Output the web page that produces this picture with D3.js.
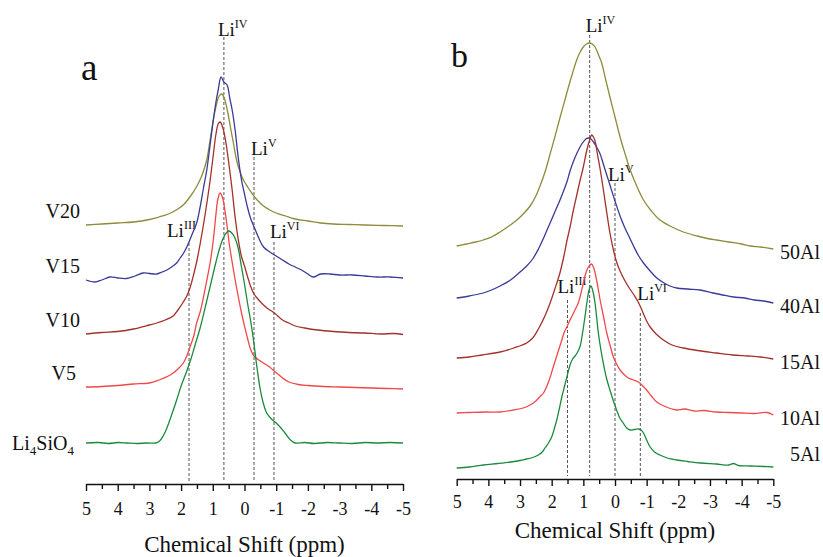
<!DOCTYPE html>
<html>
<head>
<meta charset="utf-8">
<script src="https://cdn.jsdelivr.net/npm/d3@7"></script>
<style>
  body { margin: 0; background: #fff; }
  svg { display: block; }
  text { font-family: "Liberation Serif", "Times New Roman", serif; fill: #111; }
</style>
</head>
<body>
<svg id="chart" width="823" height="557"></svg>
<script>
// ---------- data, panel a: [ppm, intensity] ----------
const li4sio4 = [[5,41],[4.6,41.5],[4.3,40.5],[4,41.5],[3.7,41],[3.4,40.5],[3.1,41],[2.8,41],[2.68,43],[2.55,49],[2.46,55],[2.3,69],[2.14,84],[2.0,98],[1.82,113],[1.68,126],[1.55,140],[1.4,156],[1.2,182],[1.05,202],[0.9,222],[0.8,234],[0.67,246],[0.55,252],[0.49,253],[0.4,251],[0.3,246],[0.2,236],[0.1,218],[0,200],[-0.1,180],[-0.2,162],[-0.3,140],[-0.4,115],[-0.5,94],[-0.6,80],[-0.7,71],[-0.85,65],[-1.0,61],[-1.15,56],[-1.3,50],[-1.45,44],[-1.6,41],[-1.9,41.5],[-2.2,40.5],[-2.6,41.5],[-3.0,41],[-3.4,40.5],[-3.8,41.5],[-4.2,41],[-4.6,41.5],[-5,41]];
const v5 = [[5,97],[4.5,97.5],[4,98.5],[3.5,100],[3,101],[2.7,104],[2.4,108],[2.25,111],[2.1,115],[1.93,121],[1.82,128],[1.72,137],[1.6,148],[1.51,161],[1.4,172],[1.3,186],[1.2,202],[1.08,222],[0.98,245],[0.9,270],[0.84,285],[0.77,291],[0.7,287],[0.62,274],[0.55,258],[0.48,240],[0.4,224],[0.3,205],[0.2,188],[0.1,172],[0,158],[-0.1,145],[-0.2,134],[-0.3,128],[-0.45,124],[-0.6,121],[-0.75,118],[-0.9,114],[-1.05,110],[-1.2,106],[-1.4,102],[-1.7,99.5],[-2,98.5],[-2.5,97.5],[-3,97],[-3.5,96.5],[-4,96],[-4.5,95.5],[-5,95]];
const v10 = [[5,150],[4.5,151.5],[4,152.5],[3.5,155],[3,159],[2.77,161],[2.5,164],[2.25,168],[2.1,174],[1.93,182],[1.82,188],[1.72,196],[1.6,210],[1.51,222],[1.4,240],[1.25,268],[1.1,300],[1.0,325],[0.9,350],[0.83,360],[0.77,362],[0.7,358],[0.6,344],[0.5,322],[0.4,297],[0.3,268],[0.2,245],[0.1,228],[0,218],[-0.1,207],[-0.2,197],[-0.3,190],[-0.45,184],[-0.6,179],[-0.75,175],[-0.9,172],[-1.05,168],[-1.2,164],[-1.4,161],[-1.6,158],[-1.9,156],[-2.3,154],[-2.8,152.5],[-3.3,151.5],[-3.8,151],[-4.3,150],[-4.7,150.5],[-5,149.5]];
const v15 = [[5,204],[4.72,202],[4.5,204],[4.24,207],[4.0,206],[3.72,205.5],[3.45,208],[3.2,211],[3.0,210.5],[2.77,210],[2.6,212],[2.45,214],[2.3,217],[2.14,221],[2.03,226],[1.92,231],[1.82,237],[1.65,250],[1.51,261],[1.4,277],[1.3,295],[1.19,314],[1.09,338],[1.0,360],[0.9,382],[0.83,394],[0.74,407],[0.65,402],[0.55,399],[0.46,385],[0.4,376],[0.3,355],[0.2,327],[0.1,305],[0,290],[-0.1,276],[-0.2,265],[-0.33,255],[-0.45,246],[-0.6,237],[-0.8,232],[-1.0,228],[-1.2,224],[-1.4,220],[-1.6,217],[-1.8,214],[-2.0,210],[-2.17,207],[-2.4,210],[-2.7,210],[-3.0,209],[-3.4,209],[-3.8,208],[-4.2,207],[-4.6,207],[-5,206]];
const v20 = [[5,259],[4.5,260],[4,261],[3.5,262],[3.0,264.5],[2.7,267],[2.4,270],[2.1,275],[1.9,280],[1.7,288],[1.5,298],[1.35,308],[1.2,323],[1.08,345],[0.98,365],[0.88,380],[0.8,388],[0.72,390],[0.64,386],[0.55,375],[0.45,358],[0.35,341],[0.25,324],[0.15,313],[0.05,305],[-0.1,297],[-0.25,290],[-0.4,284],[-0.6,278],[-0.8,274],[-1.0,271],[-1.3,268],[-1.6,265],[-2.0,263],[-2.4,261],[-2.8,260],[-3.3,259.5],[-3.8,259],[-4.4,258.5],[-5,258]];

// ---------- data, panel b ----------
const al5 = [[5,11],[4.6,12],[4.16,14],[3.7,15.5],[3.3,17],[3.0,18.5],[2.8,20],[2.6,21.5],[2.42,24],[2.3,27],[2.21,31],[2.1,36],[2.0,42],[1.92,50],[1.84,59],[1.76,70],[1.68,82],[1.6,92],[1.52,102],[1.42,114],[1.34,120],[1.26,123],[1.18,127],[1.1,133],[1.02,147],[0.95,162],[0.88,178],[0.82,189],[0.76,193],[0.7,188],[0.64,178],[0.58,162],[0.53,147],[0.45,130],[0.37,116],[0.27,101],[0.16,89],[0.05,78],[-0.05,69],[-0.15,61],[-0.26,56],[-0.37,51],[-0.48,49],[-0.6,49.5],[-0.74,50],[-0.82,49],[-0.9,46],[-1.0,39],[-1.11,32],[-1.25,27],[-1.42,24],[-1.65,21],[-1.95,19],[-2.3,17.5],[-2.7,16],[-3.2,15],[-3.6,14],[-3.74,15.5],[-3.9,13.5],[-4.3,13],[-4.7,12.5],[-5,12]];
const al10 = [[5,66],[4.6,66.5],[4.1,67],[3.63,67],[3.2,69],[2.9,71],[2.68,74],[2.5,78],[2.35,83],[2.26,86],[2.1,97],[1.95,112],[1.8,127],[1.68,139],[1.6,147],[1.52,152],[1.45,157],[1.37,162],[1.25,170],[1.16,176],[1.08,185],[1.0,196],[0.92,206],[0.84,212],[0.74,215],[0.67,211],[0.6,202],[0.53,190],[0.47,179],[0.36,162],[0.26,146],[0.15,133],[0.05,122],[-0.05,115],[-0.16,109],[-0.3,104],[-0.42,101],[-0.58,99],[-0.74,97],[-0.88,93],[-1.0,89],[-1.15,83],[-1.32,77],[-1.55,73],[-1.8,70],[-1.95,69],[-2.2,70],[-2.5,68],[-2.8,68.5],[-3.2,67],[-3.6,66.5],[-4.0,66],[-4.4,65.5],[-4.8,66.5],[-5,64]];
const al15 = [[5,121],[4.6,122],[4.2,124],[3.63,127],[3.2,131],[2.79,136],[2.6,141],[2.42,150],[2.2,164],[2.05,176],[1.9,190],[1.74,206],[1.62,222],[1.52,238],[1.42,252],[1.32,268],[1.2,285],[1.1,299],[1.0,312],[0.91,326],[0.84,335],[0.78,341],[0.74,344],[0.68,342],[0.63,338],[0.55,324],[0.47,310],[0.39,294],[0.31,277],[0.23,260],[0.16,246],[0.05,229],[-0.05,217],[-0.16,208],[-0.3,199],[-0.45,191],[-0.6,184],[-0.75,176],[-0.9,165],[-1.0,158],[-1.11,152],[-1.3,145],[-1.53,139],[-1.8,134],[-2.16,131],[-2.6,128.5],[-3.2,126],[-3.7,124],[-4.2,123],[-4.6,122],[-5,120]];
const al40 = [[5,181],[4.6,183],[4.16,186],[3.9,189],[3.63,193],[3.3,199],[3.0,207],[2.79,213],[2.6,220],[2.42,230],[2.2,245],[2.05,256],[1.9,267],[1.75,278],[1.6,290],[1.52,297],[1.42,308],[1.32,317],[1.2,326],[1.05,335],[0.92,340],[0.84,341],[0.76,340],[0.68,337],[0.58,332],[0.47,325],[0.35,313],[0.25,303],[0.16,294],[0,278],[-0.16,263],[-0.3,252],[-0.48,240],[-0.6,232],[-0.75,223],[-0.9,216],[-1.11,208],[-1.32,201],[-1.55,196],[-1.74,193],[-1.95,191],[-2.3,190],[-2.69,189],[-3.1,186],[-3.4,184],[-3.74,182],[-4.1,181],[-4.4,179],[-4.7,178],[-5,176]];
const al50 = [[5,233],[4.7,235],[4.4,237],[4.16,239],[3.9,242],[3.63,247],[3.35,253],[3.1,259],[2.9,265],[2.68,273],[2.5,283],[2.37,293],[2.2,308],[2.05,325],[1.9,342],[1.74,361],[1.6,377],[1.47,392],[1.34,406],[1.21,419],[1.1,427],[1.0,432],[0.9,435],[0.81,436],[0.72,435],[0.63,432],[0.52,424],[0.42,416],[0.3,400],[0.16,382],[0,362],[-0.16,342],[-0.32,325],[-0.48,309],[-0.7,292],[-0.9,279],[-1.15,268],[-1.42,259],[-1.8,252],[-2.16,247],[-2.6,243],[-3.0,240],[-3.21,239],[-3.6,237],[-4.0,235],[-4.27,233],[-4.6,232],[-5,230]];

// coordination sites (dashed markers)
const sitesA = [1.75, 0.65, -0.3, -0.93];
const sitesB = [1.5, 0.8, 0, -0.8];
const siteNames = ["III", "IV", "V", "VI"];
const majorTicks = d3.range(5, -5.5, -1);
const minorTicks = d3.range(4.5, -5, -1);

const colors = {olive: "#8c8c3c", navy: "#3a3a98", darkred: "#a3302a", red: "#f04848", green: "#1b8a3e"};

const svg = d3.select("#chart");

function drawPanel(p) {
  const x = d3.scaleLinear().domain([5, -5]).range([p.x0, p.x1]);
  const y = d3.scaleLinear().domain([0, 460]).range([p.axisY, p.axisY - 460]);
  const g = svg.append("g");

  // dashed lines + Li labels
  p.sites.forEach(function (s, i) {
    const lay = p.siteLayout[i];
    g.append("line")
      .attr("x1", x(s)).attr("x2", x(s))
      .attr("y1", y(lay.top)).attr("y2", p.axisY - 3)
      .attr("stroke", "#555").attr("stroke-width", 1)
      .attr("stroke-dasharray", "3,2");
    const t = g.append("text")
      .attr("x", x(s) + lay.dx).attr("y", y(lay.top) - lay.gap)
      .attr("font-size", 19);
    t.append("tspan").text("Li");
    t.append("tspan").attr("dy", -8).attr("font-size", 12).text(siteNames[i]);
  });

  const line = d3.line()
    .x(d => x(d[0])).y(d => y(d[1]))
    .curve(d3.curveCatmullRom.alpha(0.5));

  p.series.forEach(function (s) {
    g.append("path").datum(s.data)
      .attr("d", line)
      .attr("fill", "none")
      .attr("stroke", s.color)
      .attr("stroke-width", 1.3);
  });

  // axis
  const ax = g.append("g").attr("transform", `translate(0,${p.axisY})`)
    .call(d3.axisBottom(x).tickValues(majorTicks).tickSize(7).tickSizeOuter(0).tickFormat(d => String(d)));
  g.append("g").attr("transform", `translate(0,${p.axisY})`)
    .call(d3.axisBottom(x).tickValues(minorTicks).tickSize(5).tickSizeOuter(0).tickFormat(""))
    .select(".domain").remove();
  g.selectAll(".tick line").attr("stroke", "#111").attr("stroke-width", 1.4);
  ax.select(".domain").attr("stroke", "#111").attr("stroke-width", 1.6);
  ax.selectAll(".tick text")
    .attr("font-size", 18).attr("fill", "#111").attr("dy", null).attr("y", p.tickTextY);

  g.append("text")
    .attr("x", (p.x0 + p.x1) / 2).attr("y", p.titleY)
    .attr("text-anchor", "middle").attr("font-size", 23)
    .text("Chemical Shift (ppm)");

  g.append("text")
    .attr("x", p.letterX).attr("y", p.letterY)
    .attr("font-size", p.letterSize).text(p.letter);

  return {g, x, y};
}

// panel a
const pa = drawPanel({
  x0: 86, x1: 403, axisY: 484, tickTextY: 31, titleY: 552,
  letter: "a", letterX: 81, letterY: 80, letterSize: 37,
  sites: sitesA,
  siteLayout: [{top: 241, dx: -22, gap: 6}, {top: 447, dx: -6, gap: 1}, {top: 327, dx: -3, gap: 2}, {top: 242, dx: -4, gap: 4}],
  series: [
    {data: v20, color: colors.olive},
    {data: v15, color: colors.navy},
    {data: v10, color: colors.darkred},
    {data: v5, color: colors.red},
    {data: li4sio4, color: colors.green}
  ]
});

// left labels, panel a
const namesA = ["V20", "V15", "V10", "V5"];
const labelBaseA = [v20, v15, v10, v5];
namesA.forEach(function (n, i) {
  pa.g.append("text")
    .attr("x", i === 3 ? 76 : 80).attr("y", pa.y(labelBaseA[i][0][1]) - 7)
    .attr("text-anchor", "end").attr("font-size", 20).text(n);
});
const liLab = pa.g.append("text").attr("x", 12).attr("y", pa.y(li4sio4[0][1]) + 7).attr("font-size", 20);
liLab.append("tspan").text("Li");
liLab.append("tspan").attr("dy", 5).attr("font-size", 13).text("4");
liLab.append("tspan").attr("dy", -5).text("SiO");
liLab.append("tspan").attr("dy", 5).attr("font-size", 13).text("4");

// panel b
const pb = drawPanel({
  x0: 456.7, x1: 773.3, axisY: 479, tickTextY: 29, titleY: 538,
  letter: "b", letterX: 451, letterY: 67, letterSize: 34,
  sites: sitesB,
  siteLayout: [{top: 179, dx: -10, gap: 7}, {top: 444, dx: -4, gap: 3}, {top: 296, dx: -7, gap: 2}, {top: 166, dx: -3, gap: 13}],
  series: [
    {data: al50, color: colors.olive},
    {data: al40, color: colors.navy},
    {data: al15, color: colors.darkred},
    {data: al10, color: colors.red},
    {data: al5, color: colors.green}
  ]
});

const namesB = ["50Al", "40Al", "15Al", "10Al", "5Al"];
const labelBaseB = [al50, al40, al15, al10, al5];
namesB.forEach(function (n, i) {
  const last = labelBaseB[i][labelBaseB[i].length - 1];
  pb.g.append("text")
    .attr("x", 820).attr("y", pb.y(last[1]) + (i === 4 ? -6 : 10))
    .attr("text-anchor", "end").attr("font-size", 20).text(n);
});
</script>
</body>
</html>
